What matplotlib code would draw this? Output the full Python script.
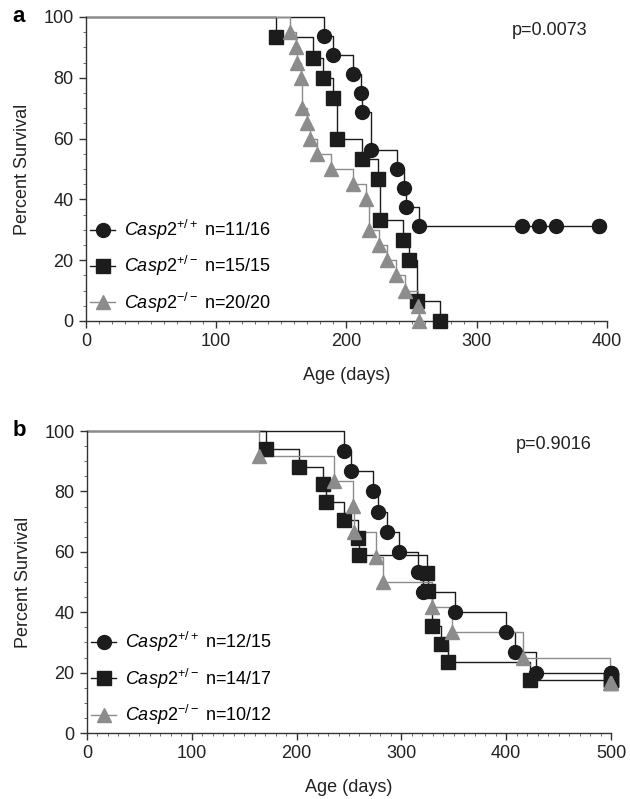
import numpy as np
import matplotlib
matplotlib.use('Agg')
import matplotlib.pyplot as plt
from matplotlib.lines import Line2D
from matplotlib.ticker import MultipleLocator

plt.rcParams['font.family'] = ['Liberation Sans', 'DejaVu Sans']
plt.rcParams['mathtext.fontset'] = 'custom'
plt.rcParams['mathtext.rm'] = 'Liberation Sans'
plt.rcParams['mathtext.it'] = 'Liberation Sans:italic'

# ---- panel a : death times (days) and censored times
a_wt_n = 16
a_wt_deaths = [183, 190, 205, 211, 212, 219, 219, 239, 244, 246, 256]
a_wt_cens = [335, 348, 361, 394, 394]
a_het_n = 15
a_het_deaths = [146, 174, 182, 190, 193, 193, 212, 224, 226, 226, 243, 248, 254, 254, 272]
a_het_cens = []
a_ko_n = 20
a_ko_deaths = [157, 161, 162, 165, 166, 166, 170, 172, 177, 188, 205, 215, 217, 217,
               225, 231, 238, 245, 255, 256]
a_ko_cens = []
a_labels = [r'$\mathit{Casp2}^{+/+}$ n=11/16', r'$\mathit{Casp2}^{+/-}$ n=15/15',
            r'$\mathit{Casp2}^{-/-}$ n=20/20']

# ---- panel b
b_wt_n = 15
b_wt_deaths = [245, 252, 273, 278, 286, 298, 316, 321, 351, 400, 408, 428]
b_wt_cens = [500, 500, 500]
b_het_n = 17
b_het_deaths = [171, 202, 225, 228, 245, 259, 260, 324, 325, 329, 329, 338, 344, 423]
b_het_cens = [500, 500, 500]
b_ko_n = 12
b_ko_deaths = [164, 236, 254, 255, 276, 282, 329, 348, 416, 499]
b_ko_cens = [500, 500]
b_labels = [r'$\mathit{Casp2}^{+/+}$ n=12/15', r'$\mathit{Casp2}^{+/-}$ n=14/17',
            r'$\mathit{Casp2}^{-/-}$ n=10/12']

BLACK = '#1c1c1c'
GREY = '#8c8c8c'
styles = [(BLACK, 'o'), (BLACK, 's'), (GREY, '^')]


def km_curve(n, deaths, cens):
    """Kaplan-Meier steps; returns step x/y, event points and censor points."""
    times = sorted(set(deaths))
    s = 100.0
    xs, ys = [0], [100.0]
    ev_x, ev_y = [], []
    cens = sorted(cens)
    for t in times:
        at_risk = n - sum(1 for d in deaths if d < t) - sum(1 for c in cens if c < t)
        d = deaths.count(t)
        s = s * (at_risk - d) / at_risk
        xs.append(t)
        ys.append(s)
        ev_x.append(t)
        ev_y.append(s)
    end = max(cens) if cens else times[-1]
    xs.append(end)
    ys.append(s)
    return xs, ys, ev_x, ev_y, cens, [s] * len(cens)


def draw_panel(ax, groups, xmax, labels, ptext, letter):
    for (n, deaths, cens), (col, mk) in zip(groups, styles):
        xs, ys, ex, ey, cx, cy = km_curve(n, deaths, cens)
        ax.step(xs, ys, where='post', color=col, lw=1.0, zorder=2)
        ax.plot(ex, ey, ls='none', marker=mk, ms=10, color=col, mec=col, zorder=3)
        ax.plot(cx, cy, ls='none', marker=mk, ms=10, color=col, mec=col, zorder=3)
    ax.set_xlim(0, xmax)
    ax.set_ylim(0, 100)
    ax.set_xticks(np.arange(0, xmax + 1, 100))
    ax.set_yticks(np.arange(0, 101, 20))
    ax.xaxis.set_minor_locator(MultipleLocator(10))
    ax.yaxis.set_minor_locator(MultipleLocator(5))
    for side in ['top', 'right']:
        ax.spines[side].set_visible(False)
    for side in ['left', 'bottom']:
        ax.spines[side].set_linewidth(1.0)
        ax.spines[side].set_color('#333333')
    ax.tick_params(which='major', direction='out', length=5, width=1.0,
                   labelsize=13, pad=4, colors='#333333', labelcolor='#222222')
    ax.tick_params(which='minor', direction='out', length=2, width=0.6, colors='#555555')
    ax.set_xlabel('Age (days)', fontsize=13, labelpad=12, color='#222222')
    ax.set_ylabel('Percent Survival', fontsize=13, labelpad=9, color='#222222')
    ax.text(0.89, 0.955, ptext, transform=ax.transAxes, ha='center', va='center',
            fontsize=13, color='#222222')
    ax.text(-0.13, 1.0, letter, transform=ax.transAxes, ha='center', va='center',
            fontsize=16, fontweight='bold')
    handles = [Line2D([], [], color=c, marker=m, ms=10, lw=1.0) for c, m in styles]
    ax.legend(handles, labels, loc='center left', bbox_to_anchor=(0.008, 0.18),
              frameon=False, fontsize=13, handlelength=1.4, handletextpad=0.45,
              labelspacing=0.68, borderpad=0, borderaxespad=0)


fig = plt.figure(figsize=(6.30, 7.99), dpi=100)
ax_a = fig.add_axes([86 / 630, 1 - 321 / 799, 521 / 630, 304 / 799])
ax_b = fig.add_axes([87 / 630, 1 - 733 / 799, 524 / 630, 302 / 799])

draw_panel(ax_a,
           [(a_wt_n, a_wt_deaths, a_wt_cens), (a_het_n, a_het_deaths, a_het_cens),
            (a_ko_n, a_ko_deaths, a_ko_cens)],
           400, a_labels, 'p=0.0073', 'a')
draw_panel(ax_b,
           [(b_wt_n, b_wt_deaths, b_wt_cens), (b_het_n, b_het_deaths, b_het_cens),
            (b_ko_n, b_ko_deaths, b_ko_cens)],
           500, b_labels, 'p=0.9016', 'b')

for ax in (ax_a, ax_b):
    for line in ax.lines:
        line.set_clip_on(False)

fig.savefig('out.png', dpi=100)
plt.close('all')
